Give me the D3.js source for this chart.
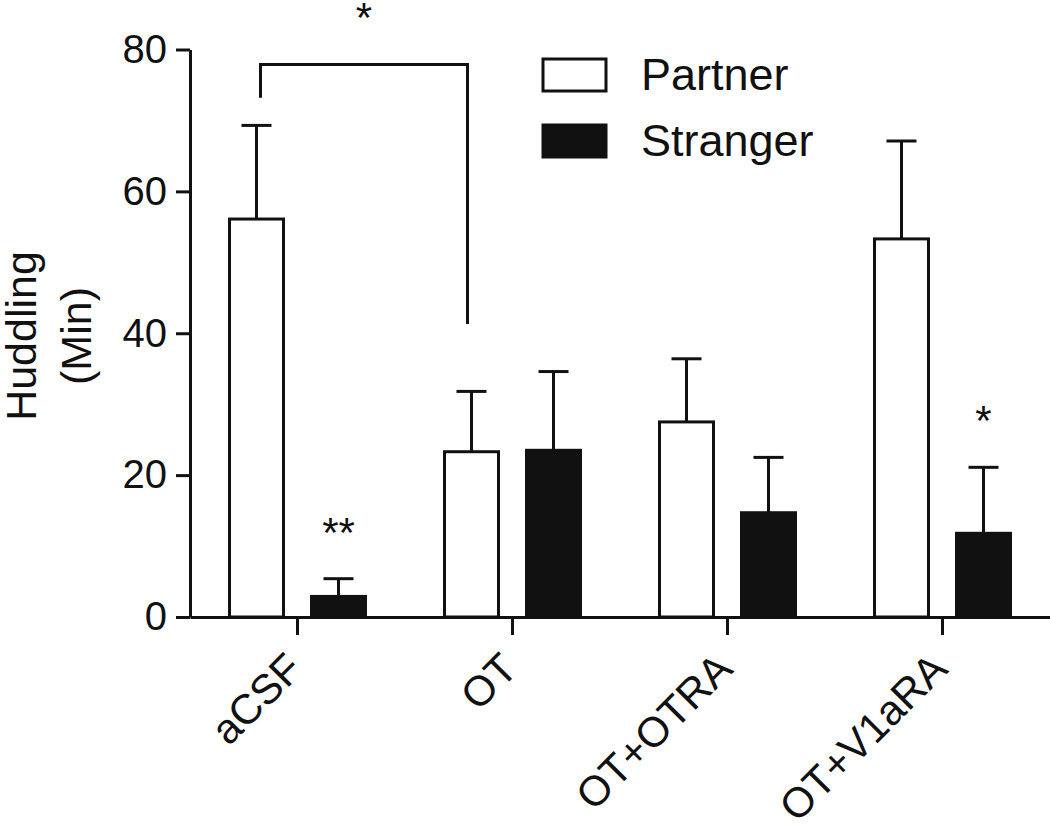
<!DOCTYPE html>
<html>
<head>
<meta charset="UTF-8">
<title>Huddling</title>
<script src="https://d3js.org/d3.v7.min.js"></script>
<style>
  * { margin: 0; padding: 0; box-sizing: border-box; }
  body { background: #fff; font-family: "Liberation Sans", Arial, sans-serif; }
</style>
</head>
<body>
<div id="chart"></div>
<script>
const categories = ["aCSF", "OT", "OT+OTRA", "OT+V1aRA"];
const groups = ["Partner", "Stranger"];
const partnerMean = [56.1, 23.3, 27.5, 53.3];
const partnerSem = [13.2, 8.5, 8.9, 13.8];
const strangerMean = [2.9, 23.5, 14.7, 11.8];
const strangerSem = [2.5, 11.1, 7.8, 9.3];
const yTicks = [0, 20, 40, 60, 80];
const starLabels = ["**", "", "", "*"];

const W = 1050, H = 824;
const fill = { Partner: "#fff", Stranger: "#111" };

const svg = d3.select("#chart").append("svg")
    .attr("width", W)
    .attr("height", H);

const x = d3.scaleBand()
    .domain(categories)
    .range([190, 1050])
    .padding(0);

const x1 = d3.scaleBand()
    .domain(groups)
    .range([39.5, 175.5])
    .paddingInner(28 / 82)
    .paddingOuter(0);

const y = d3.scaleLinear()
    .domain([0, 80])
    .range([617, 49.5]);

const rows = [];
categories.forEach((c, i) => {
    rows.push({ cat: c, group: "Partner", mean: partnerMean[i], sem: partnerSem[i] });
    rows.push({ cat: c, group: "Stranger", mean: strangerMean[i], sem: strangerSem[i] });
});

// error bars (upper only)
const err = svg.append("g").attr("stroke", "#111").attr("stroke-width", 3);
rows.forEach(d => {
    const cx = x(d.cat) + x1(d.group) + x1.bandwidth() / 2;
    err.append("line")
        .attr("x1", cx).attr("x2", cx)
        .attr("y1", y(d.mean)).attr("y2", y(d.mean + d.sem));
    err.append("line")
        .attr("x1", cx - 15).attr("x2", cx + 15)
        .attr("y1", y(d.mean + d.sem)).attr("y2", y(d.mean + d.sem));
});

svg.append("g").selectAll("rect")
    .data(rows)
    .join("rect")
    .attr("x", d => x(d.cat) + x1(d.group))
    .attr("y", d => y(d.mean))
    .attr("width", x1.bandwidth())
    .attr("height", d => y(0) - y(d.mean))
    .attr("fill", d => fill[d.group])
    .attr("stroke", "#111")
    .attr("stroke-width", 3);

// axes
const yAxis = svg.append("g")
    .attr("transform", "translate(190,0)")
    .call(d3.axisLeft(y).tickValues(yTicks).tickSize(14).tickPadding(9).tickSizeOuter(0));
yAxis.selectAll("line, path").attr("stroke", "#111").attr("stroke-width", 3);
yAxis.selectAll("text")
    .style("font-family", "'Liberation Sans', Arial, sans-serif")
    .style("font-size", "40px")
    .attr("fill", "#111");

const xAxis = svg.append("g")
    .attr("transform", `translate(0,${y(0)})`)
    .call(d3.axisBottom(x).tickSize(18).tickSizeOuter(0).tickFormat(""));
xAxis.selectAll("line, path").attr("stroke", "#111").attr("stroke-width", 3);

svg.append("g").selectAll("text")
    .data(categories)
    .join("text")
    .attr("transform", d => `translate(${x(d) + x.bandwidth() / 2 - 14},${650}) rotate(-45)`)
    .attr("text-anchor", "end")
    .attr("dy", "0.71em")
    .style("font-size", "42px")
    .attr("fill", "#111")
    .text(d => d);

// y label
const yl = svg.append("text")
    .attr("transform", "translate(0,336) rotate(-90)")
    .attr("text-anchor", "middle")
    .style("font-size", "43px")
    .attr("fill", "#111");
yl.append("tspan").attr("x", 0).attr("y", 36).text("Huddling");
yl.append("tspan").attr("x", 0).attr("y", 91).text("(Min)");

// significance stars over stranger bars
svg.append("g").selectAll("text")
    .data(categories)
    .join("text")
    .attr("x", d => x(d) + x1("Stranger") + x1.bandwidth() / 2)
    .attr("y", (d, i) => y(strangerMean[i] + strangerSem[i]) - 32)
    .attr("text-anchor", "middle")
    .style("font-size", "42px")
    .attr("fill", "#111")
    .text((d, i) => starLabels[i]);

// bracket aCSF partner vs OT partner
const bx0 = x("aCSF") + x1("Partner") + x1.bandwidth() / 2 + 4;
const bx1 = x("OT") + x1("Partner") + x1.bandwidth() / 2 - 4;
svg.append("path")
    .attr("d", `M${bx0},${y(73.2)}V${y(77.9)}H${bx1}V${y(41.3)}`)
    .attr("fill", "none")
    .attr("stroke", "#111")
    .attr("stroke-width", 3);
svg.append("text")
    .attr("x", (bx0 + bx1) / 2)
    .attr("y", 32)
    .attr("text-anchor", "middle")
    .style("font-size", "42px")
    .attr("fill", "#111")
    .text("*");

// legend
const leg = svg.append("g").attr("transform", "translate(543,59)");
groups.forEach((g, i) => {
    leg.append("rect")
        .attr("x", 0).attr("y", i * 66)
        .attr("width", 63).attr("height", 32)
        .attr("fill", fill[g])
        .attr("stroke", "#111")
        .attr("stroke-width", 3);
    leg.append("text")
        .attr("x", 98).attr("y", i * 66 + 31)
        .style("font-size", "45px")
        .attr("fill", "#111")
        .text(g);
});
</script>
</body>
</html>
